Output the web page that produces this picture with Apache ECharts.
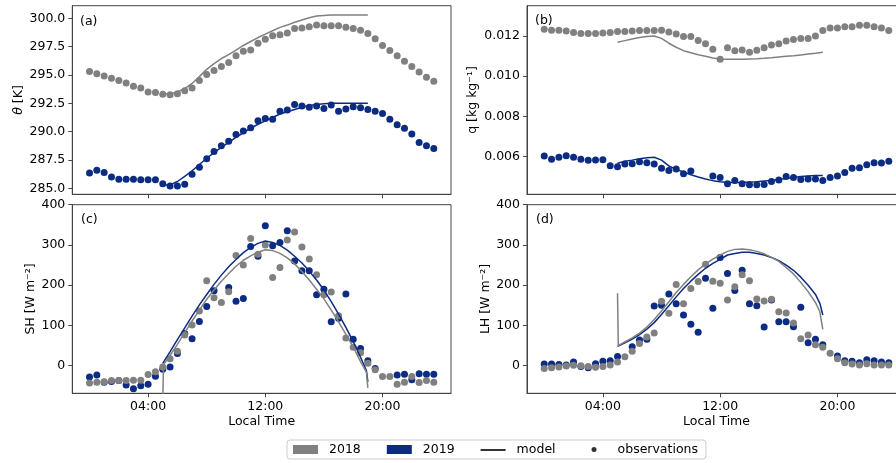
<!DOCTYPE html>
<html>
<head>
<meta charset="utf-8">
<title>theta q SH LH</title>
<script src="https://cdn.jsdelivr.net/npm/echarts@6/dist/echarts.min.js"></script>
<style>
  html, body { margin: 0; padding: 0; background: #fff; }
  #main { width: 896px; height: 463px; }
</style>
</head>
<body>
<div id="main"></div>
<script>
// observation times (local hours), every half hour
const obsHours = [0,0.5,1,1.5,2,2.5,3,3.5,4,4.5,5,5.5,6,6.5,7,7.5,8,8.5,9,9.5,10,10.5,11,11.5,
  12,12.5,13,13.5,14,14.5,15,15.5,16,16.5,17,17.5,18,18.5,19,19.5,20,20.5,21,21.5,22,22.5,23,23.5];
// model output times
const modelHours = [5,5.5,6,6.5,7,7.5,8,8.5,9,9.5,10,10.5,11,11.5,12,12.5,13,13.5,14,14.5,15,15.5,16,16.5,17,17.5,18,18.5,19];
const timeTicks = [4, 12, 20];

// (a) potential temperature [K]
const thetaObs2018 = [295.3,295.1,294.9,294.7,294.5,294.3,294.0,293.85,293.5,293.45,293.3,293.25,293.35,293.6,293.85,294.5,
  295.05,295.4,295.75,296.1,296.7,297.1,297.2,297.8,298.15,298.45,298.55,298.7,299.1,299.15,299.25,299.4,
  299.35,299.35,299.35,299.2,299.1,298.95,298.65,298.2,297.6,297.15,296.7,296.2,295.75,295.25,294.8,294.45];
const thetaObs2019 = [286.35,286.6,286.4,286.0,285.8,285.8,285.8,285.75,285.75,285.75,285.4,285.2,285.2,285.35,286.25,286.85,
  287.6,288.25,288.75,289.15,289.75,290.05,290.35,290.95,291.15,291.1,291.8,291.9,292.4,292.25,292.15,292.25,
  292.05,292.35,291.8,292.0,292.2,292.1,291.95,291.8,291.6,291.1,290.6,290.3,289.8,289.05,288.75,288.5];
const thetaModel2018 = [293.3,293.35,293.5,293.8,294.25,294.85,295.5,296.0,296.45,296.8,297.2,297.6,297.95,298.3,298.6,
  298.9,299.2,299.4,299.65,299.85,300.05,300.2,300.25,300.3,300.3,300.3,300.3,300.3,300.3];
const thetaModel2019 = [285.3,285.3,285.6,286.05,286.55,287.1,287.65,288.15,288.6,289.05,289.5,289.9,290.3,290.65,290.95,
  291.25,291.55,291.75,291.95,292.15,292.3,292.4,292.45,292.5,292.5,292.5,292.5,292.5,292.5];

// (b) specific humidity [kg kg-1]
const qObs2018 = [0.01233,0.01228,0.01228,0.01225,0.01218,0.01213,0.01212,0.01212,0.01215,0.01218,0.01222,0.01222,
  0.01225,0.01227,0.01227,0.01227,0.01228,0.0122,0.0121,0.01197,0.01197,0.01178,0.01162,0.01134,0.01084,0.01142,
  0.01127,0.0113,0.01119,0.01129,0.01142,0.01155,0.01162,0.01175,0.01182,0.01187,0.01188,0.012,0.01227,0.0124,
  0.0124,0.01246,0.01246,0.01253,0.01253,0.01246,0.0124,0.01227];
const qObs2019 = [0.00603,0.00587,0.00597,0.00605,0.00597,0.00587,0.00582,0.00583,0.00585,0.00555,0.0055,0.00564,
  0.00565,0.00575,0.0057,0.00564,0.00542,0.00532,0.00539,0.00515,0.00529,null,null,0.00504,0.00497,0.00466,
  0.00482,0.00466,0.00461,0.00461,0.00462,0.00477,0.00484,0.00501,0.00496,0.00487,0.00489,0.00489,0.00482,0.00496,
  0.00504,0.00522,0.00542,0.00545,0.0056,0.0057,0.00569,0.00577];
const qModel2018 = [0.01169,0.01177,0.01185,0.01192,0.01197,0.012,0.01188,0.01164,0.01144,0.01127,0.01117,0.01107,
  0.01099,0.01091,0.01086,0.01084,0.01084,0.01084,0.01086,0.01087,0.01089,0.01092,0.01096,0.01099,0.01102,0.01106,
  0.0111,0.01114,0.01119];
const qModel2019 = [0.00567,0.00577,0.00583,0.0059,0.00595,0.00597,0.00583,0.00554,0.00537,0.00524,0.0051,0.00499,
  0.00489,0.00481,0.00476,0.00472,0.00472,0.00472,0.00474,0.00476,0.00479,0.00482,0.00487,0.00492,0.00497,0.00501,
  0.00504,0.00506,0.00507];

// (c) sensible heat flux [W m-2]
const shObs2018 = [-43,-41,-40,-37,-37,-37,-36,-36,-22,-15,-3,17,36,76,101,136,211,169,157,184,274,250,316,277,
  300,219,244,312,332,295,265,226,176,183,124,69,46,32,6,-10,-27,-27,-46,-41,-27,-42,-37,-41];
const shObs2019 = [-28,-23,-41,-39,-37,-48,-57,-50,-46,-26,-9,-3,30,80,67,110,147,186,null,194,160,167,296,272,
  348,298,306,335,260,236,236,176,190,109,118,178,66,43,12,-7,null,null,-23,-21,-35,-20,-21,-21];
const shModelHours2018 = [5, 5.05].concat(modelHours.slice(1, 28), [18.9, 19]);
const shModel2018 = [-90,2,26,53,82,111,138,165,188,210,229,247,262,273,282,288,286,279,268,253,234,213,190,166,
  138,109,78,47,10,-16,-55];
const shModelHours2019 = modelHours.slice(0, 28).concat([18.9, 19]);
const shModel2019 = [6,35,65,94,123,151,177,202,225,246,264,281,294,304,310,306,299,287,272,255,235,213,188,159,
  128,95,60,21,-12,-40];

// (d) latent heat flux [W m-2]
const lhObs2018 = [-7,-5,-3,-1,1,0,-2,-4,-2,2,9,22,36,55,71,81,160,130,202,154,192,209,252,210,
  205,163,196,226,211,166,161,165,134,131,106,67,76,52,46,31,17,7,4,2,5,2,2,2];
const lhObs2019 = [4,4,3,2,9,-2,-5,5,11,12,23,null,47,64,66,148,150,178,154,126,103,83,217,143,
  269,229,187,237,154,149,96,163,109,109,97,145,57,66,52,null,24,12,11,7,15,12,9,7];
const lhModelHours2018 = [5, 5.05].concat(modelHours.slice(1, 28), [18.8, 19]);
const lhModel2018 = [180,50,59,69,81,96,115,136,159,182,202,221,238,253,265,275,284,289,290,288,284,278,269,259,
  244,228,207,184,157,134,90];
const lhModelHours2019 = modelHours.slice(0, 28).concat([18.8, 19]);
const lhModel2019 = [48,57,66,77,91,107,127,149,171,192,210,227,242,254,264,275,279,282,282,279,275,269,261,250,
  237,220,200,177,155,126];

const GRAY = '#808080';
const BLUE = '#0c2c84';
const FRAME = '#444';
const FONT = 'DejaVu Sans';

function pairs(hours, values) {
  return hours.map((t, i) => [t, values[i]]).filter(p => p[1] !== null);
}

function fmtTime(v) {
  return String(v).padStart(2, '0') + ':00';
}

function makeXAxis(gridIndex, withLabels) {
  return {
    type: 'value',
    gridIndex: gridIndex,
    min: -1.175,
    max: 24.675,
    axisLine: { show: true, onZero: false, lineStyle: { color: FRAME, width: 1 } },
    axisTick: { show: true, customValues: timeTicks, length: 4, lineStyle: { color: FRAME } },
    axisLabel: { show: withLabels, customValues: timeTicks, formatter: fmtTime, color: '#000', fontSize: 12.5, margin: 7 },
    splitLine: { show: false },
    name: withLabels ? 'Local Time' : '',
    nameLocation: 'middle',
    nameGap: 22,
    nameMoveOverlap: false,
    nameTextStyle: { color: '#000', fontSize: 12.5 }
  };
}

function makeYAxis(gridIndex, min, max, ticks, fmt, name, gap) {
  return {
    type: 'value',
    gridIndex: gridIndex,
    min: min,
    max: max,
    axisLine: { show: true, onZero: false, lineStyle: { color: FRAME, width: 1 } },
    axisTick: { show: true, customValues: ticks, length: 4, lineStyle: { color: FRAME } },
    axisLabel: { customValues: ticks, formatter: fmt, color: '#000', fontSize: 12.5, margin: 7 },
    splitLine: { show: false },
    name: name,
    nameLocation: 'middle',
    nameGap: gap,
    nameMoveOverlap: false,
    nameTextStyle: {
      color: '#000', fontSize: 12.5,
      rich: { it: { fontStyle: 'italic', fontSize: 12.5, color: '#000' } }
    }
  };
}

function obsSeries(name, color, idx, data) {
  return {
    name: name, type: 'scatter', xAxisIndex: idx, yAxisIndex: idx,
    symbolSize: 7, color: color, itemStyle: { color: color, opacity: 1 },
    data: data, z: 2
  };
}

function modelSeries(name, color, idx, data) {
  return {
    name: name, type: 'line', xAxisIndex: idx, yAxisIndex: idx,
    showSymbol: false, symbol: 'none', color: color,
    lineStyle: { color: color, width: 1.5 }, data: data, z: 3, clip: true
  };
}

const grids = [
  { left: 72.3, top: 5.7, width: 378.7, height: 188.6 },
  { left: 527, top: 5.7, width: 379, height: 188.6 },
  { left: 72.3, top: 204.7, width: 378.7, height: 188.6 },
  { left: 527, top: 204.7, width: 379, height: 188.6 }
].map(g => Object.assign(g, {
  show: true, borderColor: FRAME, borderWidth: 1, backgroundColor: 'transparent',
  containLabel: false, outerBoundsMode: 'none'
}));

const fluxTicks = [0, 100, 200, 300, 400];

const chart = echarts.init(document.getElementById('main'), null, { renderer: 'canvas' });

chart.setOption({
  animation: false,
  textStyle: { fontFamily: FONT },
  grid: grids,
  xAxis: [makeXAxis(0, false), makeXAxis(1, false), makeXAxis(2, true), makeXAxis(3, true)],
  yAxis: [
    makeYAxis(0, 284.47, 301.11, [285, 287.5, 290, 292.5, 295, 297.5, 300], v => v.toFixed(1), '{it|θ} [K]', 47),
    makeYAxis(1, 0.004131, 0.013506, [0.006, 0.008, 0.010, 0.012], v => v.toFixed(3), 'q [kg kg⁻¹]', 48),
    makeYAxis(2, -68.6, 400, fluxTicks, v => String(v), 'SH [W m⁻²]', 35),
    makeYAxis(3, -68.6, 400, fluxTicks, v => String(v), 'LH [W m⁻²]', 35)
  ],
  legend: {
    left: 287,
    top: 440,
    itemWidth: 25,
    itemHeight: 9,
    itemGap: 26,
    padding: [3, 8, 3, 6],
    borderColor: '#ccc',
    borderWidth: 1,
    borderRadius: 3,
    textStyle: { color: '#000', fontSize: 12.5, padding: [0, 0, 0, 6] },
    data: [
      { name: '2018', icon: 'rect', itemStyle: { color: GRAY } },
      { name: '2019', icon: 'rect', itemStyle: { color: BLUE } },
      { name: 'model', icon: 'path://M0,0M25,9M0,4.2L25,4.2L25,5.8L0,5.8Z', itemStyle: { color: '#000' } },
      { name: 'observations', icon: 'path://M0,0M25,9M10,4.5a2.5,2.5 0 1,0 5,0a2.5,2.5 0 1,0 -5,0Z', itemStyle: { color: '#000' } }
    ]
  },
  graphic: [
    { type: 'text', left: 80, top: 15, style: { text: '(a)', font: '12.5px "DejaVu Sans"', fill: '#000' } },
    { type: 'text', left: 535, top: 14, style: { text: '(b)', font: '12.5px "DejaVu Sans"', fill: '#000' } },
    { type: 'text', left: 81, top: 213, style: { text: '(c)', font: '12.5px "DejaVu Sans"', fill: '#000' } },
    { type: 'text', left: 536, top: 213, style: { text: '(d)', font: '12.5px "DejaVu Sans"', fill: '#000' } }
  ],
  series: [
    obsSeries('2019', BLUE, 0, pairs(obsHours, thetaObs2019)),
    obsSeries('2018', GRAY, 0, pairs(obsHours, thetaObs2018)),
    modelSeries('2019', BLUE, 0, pairs(modelHours, thetaModel2019)),
    modelSeries('2018', GRAY, 0, pairs(modelHours, thetaModel2018)),

    obsSeries('2019', BLUE, 1, pairs(obsHours, qObs2019)),
    obsSeries('2018', GRAY, 1, pairs(obsHours, qObs2018)),
    modelSeries('2019', BLUE, 1, pairs(modelHours, qModel2019)),
    modelSeries('2018', GRAY, 1, pairs(modelHours, qModel2018)),

    obsSeries('2019', BLUE, 2, pairs(obsHours, shObs2019)),
    obsSeries('2018', GRAY, 2, pairs(obsHours, shObs2018)),
    modelSeries('2019', BLUE, 2, pairs(shModelHours2019, shModel2019)),
    modelSeries('2018', GRAY, 2, pairs(shModelHours2018, shModel2018)),

    obsSeries('2019', BLUE, 3, pairs(obsHours, lhObs2019)),
    obsSeries('2018', GRAY, 3, pairs(obsHours, lhObs2018)),
    modelSeries('2019', BLUE, 3, pairs(lhModelHours2019, lhModel2019)),
    modelSeries('2018', GRAY, 3, pairs(lhModelHours2018, lhModel2018)),

    // legend-only entries
    { name: 'model', type: 'line', xAxisIndex: 0, yAxisIndex: 0, data: [], color: '#000' },
    { name: 'observations', type: 'scatter', xAxisIndex: 0, yAxisIndex: 0, data: [], color: '#000' }
  ]
});
</script>
</body>
</html>
